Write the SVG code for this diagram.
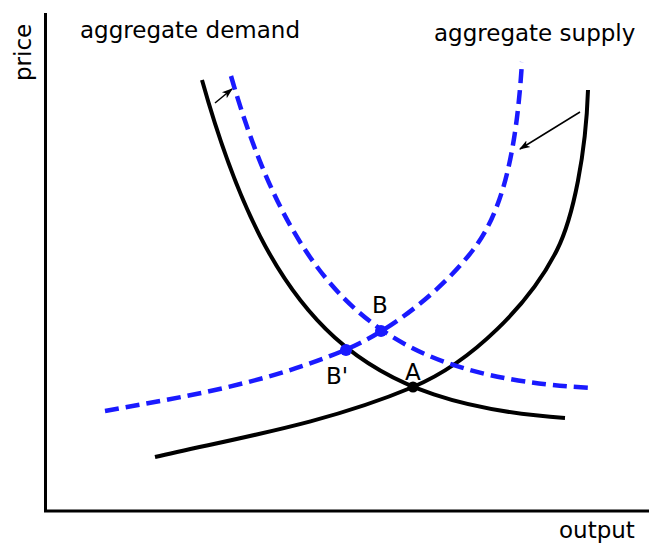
<svg xmlns="http://www.w3.org/2000/svg" width="649" height="544" viewBox="0 0 649 544">
<defs>
<style>
.lbl{font-family:"DejaVu Sans",sans-serif;font-size:23px;fill:#000}
.pt{font-family:"DejaVu Sans",sans-serif;font-size:23px;fill:#000}
.blk{fill:none;stroke:#000;stroke-width:4}
.blu{fill:none;stroke:#1a1aff;stroke-width:4.5;stroke-dasharray:14,7}
.arr{fill:none;stroke:#000;stroke-width:1.5;marker-end:url(#ah)}
</style>
<marker id="ah" viewBox="0 0 10 10" refX="9" refY="5" markerWidth="11" markerHeight="11" orient="auto" markerUnits="userSpaceOnUse">
<path d="M0,1.5 L10,5 L0,8.5 L2.5,5 Z" fill="#000"/>
</marker>
</defs>
<rect width="649" height="544" fill="#fff"/>
<g id="axes">
<path d="M45.5,13 V511 H649" fill="none" stroke="#000" stroke-width="3"/>
<text class="lbl" transform="translate(31,81) rotate(-90)">price</text>
<text class="lbl" x="559" y="538">output</text>
</g>
<g id="connectors">
<path id="ad" class="blk" d="M202,80 C272,330 365,404 565,418"/>
<path id="as" class="blk" d="M155,457 C241,437.2 327,423.1 413,387 C472.2,362.2 530.3,303.3 557,250 C573.5,217 585.9,153 588,90"/>
<path id="ad2" class="blu" d="M231,76 C300,315 400,378 594,388"/>
<path id="as2" class="blu" d="M105,411 C185,396.6 265,383.6 345,350 C390.3,331 441.5,291 473,250 C501.4,213.2 516.1,156.8 522,62"/>
<path class="arr" d="M215,103 L232,89"/>
<path class="arr" d="M580,112 L520,149"/>
</g>
<g id="nodeA">
<circle cx="413" cy="387" r="5.5" fill="#000"/>
<text class="pt" x="405" y="380">A</text>
</g>
<g id="nodeB">
<circle cx="381" cy="331" r="6" fill="#1a1aff"/>
<text class="pt" x="372" y="313">B</text>
</g>
<g id="nodeBp">
<circle cx="346" cy="350" r="6" fill="#1a1aff"/>
<text class="pt" x="326" y="384">B'</text>
</g>
<g id="titles">
<text class="lbl" x="80" y="38">aggregate demand</text>
<text class="lbl" x="434" y="41">aggregate supply</text>
</g>
</svg>
